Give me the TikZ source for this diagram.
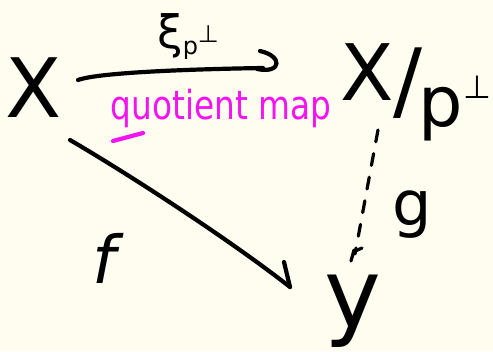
\documentclass[tikz,border=0pt]{standalone}
\usepackage{fontspec}
\setmainfont{DejaVu Sans}
\definecolor{paper}{HTML}{FEFDF0}
\definecolor{pink}{HTML}{F414F0}
\begin{document}
\begin{tikzpicture}[x=1pt,y=-1pt,
  ink/.style={line width=4.2pt,line cap=round,line join=round,black},
  lbl/.style={inner sep=0pt,anchor=base}]
\fill[paper] (0,0) rectangle (493,351);
\useasboundingbox (0,0) rectangle (493,351);
% objects
\node[lbl] (X) at (34,117) {\fontsize{82}{82}\selectfont X};
\node[lbl,anchor=base west] (Q) at (340,100) {\fontsize{78}{78}\selectfont X\raisebox{-10pt}{\fontsize{86}{86}\selectfont /}\hspace{-4pt}\raisebox{-26pt}{\fontsize{70}{70}\selectfont p}\raisebox{2pt}{\fontsize{32}{32}\selectfont ⊥}};
\node[lbl] (Y) at (353,327) {\fontsize{96}{96}\selectfont y};
% labels
\node[lbl] (xi) at (188,48) {\fontsize{46}{46}\selectfont ξ\raisebox{-6pt}{\fontsize{24}{24}\selectfont p}\raisebox{6pt}{\fontsize{24}{24}\selectfont ⊥}};
\node[lbl,text=pink] (qm) at (221,119) {\fontsize{40}{40}\selectfont\scalebox{0.82}[1]{quotient map}};
\node[lbl] (f) at (104,283) {\fontsize{66}{66}\selectfont\itshape f};
\node[lbl] (g) at (412,225) {\fontsize{62}{62}\selectfont g};
% top arrow
\coordinate (a1) at (78,80);
\coordinate (a2) at (263,68);
\draw[ink] (a1) .. controls (100,72) and (200,69) .. (a2);
\draw[ink] (260,51) .. controls (283,56) and (282,74) .. (257,69);
% underline
\draw[line width=4.2pt,line cap=round,pink] (113,141) -- (143,133);
% f arrow
\coordinate (f1) at (70,140);
\coordinate (f2) at (290,287);
\draw[ink] (f1) .. controls (130,175) and (230,240) .. (f2);
\draw[ink] (f2) -- (284,262);
% g arrow dashed
\coordinate (g1) at (378,130);
\coordinate (g2) at (355,254);
\draw[ink,line width=3.2pt,dash pattern=on 12pt off 12pt] (g1) -- (g2);
\draw[ink,line width=3.2pt] (351,261) -- (354,250) (353,252) -- (362,248);
\end{tikzpicture}
\end{document}
